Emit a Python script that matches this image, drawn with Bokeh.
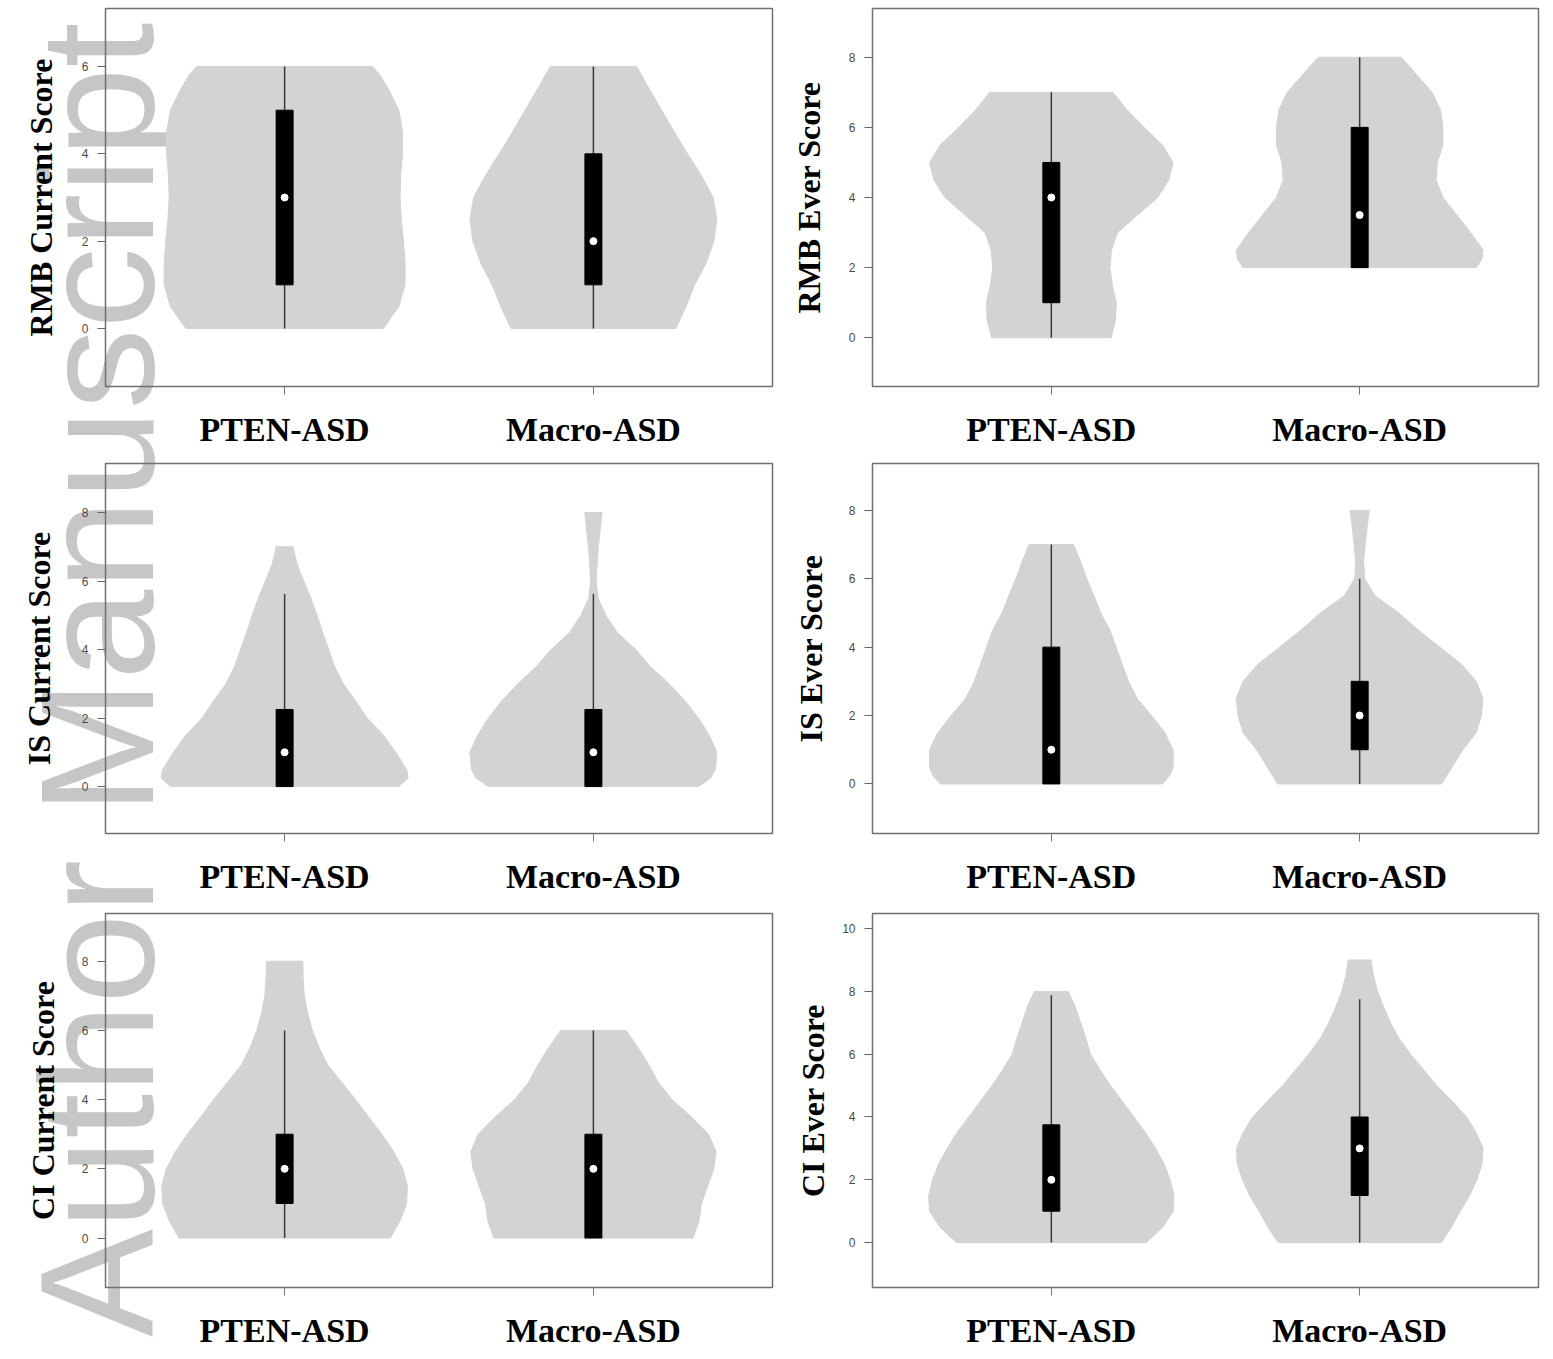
from bokeh.plotting import figure
from bokeh.models import FixedTicker, Range1d, Div
from bokeh.layouts import gridplot, column
from bokeh.embed import file_html
from bokeh.resources import INLINE

# ---------------- data ----------------
groups = ["PTEN-ASD", "Macro-ASD"]
group_x = [1, 2]

ylabels = ["RMB Current Score", "RMB Ever Score",
           "IS Current Score", "IS Ever Score",
           "CI Current Score", "CI Ever Score"]

ticks_rmb_cur = [0, 2, 4, 6]
ticks_8 = [0, 2, 4, 6, 8]
ticks_10 = [0, 2, 4, 6, 8, 10]

# violin outlines: score levels (y) and half-widths (w); box = [low whisker, q1, median, q3, high whisker]
rmb_cur_pten_y = [0, 0.25, 0.5, 1, 1.5, 2, 2.5, 3, 3.5, 4, 4.5, 5, 5.5, 5.8, 6]
rmb_cur_pten_w = [0.32, 0.345, 0.37, 0.39, 0.39, 0.385, 0.378, 0.374, 0.376, 0.382, 0.382, 0.37, 0.335, 0.31, 0.285]
rmb_cur_pten_box = [0, 1, 3, 5, 6]
rmb_cur_macro_y = [0, 0.5, 1, 1.5, 2, 2.5, 3, 3.5, 4, 4.5, 5, 5.5, 6]
rmb_cur_macro_w = [0.267, 0.30, 0.328, 0.365, 0.39, 0.40, 0.388, 0.35, 0.305, 0.262, 0.221, 0.18, 0.14]
rmb_cur_macro_box = [0, 1, 2, 4, 6]

rmb_ever_pten_y = [0, 0.5, 1, 1.5, 2, 2.5, 3, 3.5, 4, 4.5, 5, 5.5, 6, 6.5, 7]
rmb_ever_pten_w = [0.194, 0.208, 0.211, 0.198, 0.19, 0.195, 0.215, 0.28, 0.345, 0.381, 0.395, 0.36, 0.30, 0.245, 0.20]
rmb_ever_pten_box = [0, 1, 4, 5, 7]
rmb_ever_macro_y = [2, 2.25, 2.5, 3, 3.5, 4, 4.5, 5, 5.5, 6, 6.5, 7, 7.5, 8]
rmb_ever_macro_w = [0.378, 0.397, 0.40, 0.36, 0.315, 0.27, 0.248, 0.252, 0.27, 0.27, 0.262, 0.235, 0.185, 0.135]
rmb_ever_macro_box = [2, 2, 3.5, 6, 8]

is_cur_pten_y = [0, 0.25, 0.5, 1, 1.5, 2, 2.5, 3, 3.5, 4, 4.5, 5, 5.5, 6, 6.5, 7]
is_cur_pten_w = [0.37, 0.40, 0.395, 0.36, 0.32, 0.267, 0.23, 0.19, 0.162, 0.143, 0.123, 0.105, 0.085, 0.062, 0.04, 0.027]
is_cur_pten_box = [0, 0, 1, 2.25, 5.625]
is_cur_macro_y = [0, 0.25, 0.5, 1, 1.5, 2, 2.5, 3, 3.5, 4, 4.5, 5, 5.5, 6, 6.5, 7, 7.5, 8]
is_cur_macro_w = [0.34, 0.38, 0.395, 0.40, 0.375, 0.34, 0.297, 0.245, 0.185, 0.137, 0.077, 0.04, 0.015, 0.009, 0.012, 0.016, 0.022, 0.028]
is_cur_macro_box = [0, 0, 1, 2.25, 5.625]

is_ever_pten_y = [0, 0.25, 0.5, 1, 1.5, 2, 2.5, 3, 3.5, 4, 4.5, 5, 5.5, 6, 6.5, 7]
is_ever_pten_w = [0.36, 0.385, 0.395, 0.395, 0.368, 0.325, 0.278, 0.25, 0.23, 0.21, 0.19, 0.16, 0.138, 0.115, 0.095, 0.072]
is_ever_pten_box = [0, 0, 1, 4, 7]
is_ever_macro_y = [0, 0.5, 1, 1.5, 2, 2.5, 3, 3.5, 4, 4.5, 5, 5.5, 6, 6.5, 7, 7.5, 8]
is_ever_macro_w = [0.266, 0.30, 0.335, 0.378, 0.395, 0.40, 0.378, 0.33, 0.26, 0.19, 0.127, 0.05, 0.016, 0.013, 0.018, 0.024, 0.031]
is_ever_macro_box = [0, 1, 2, 3, 6]

ci_cur_pten_y = [0, 0.5, 1, 1.5, 2, 2.5, 3, 3.5, 4, 4.5, 5, 5.5, 6, 6.5, 7, 7.5, 8]
ci_cur_pten_w = [0.342, 0.374, 0.395, 0.398, 0.383, 0.353, 0.315, 0.272, 0.23, 0.185, 0.14, 0.112, 0.09, 0.075, 0.064, 0.06, 0.059]
ci_cur_pten_box = [0, 1, 2, 3, 6]
ci_cur_macro_y = [0, 0.5, 1, 1.5, 2, 2.5, 3, 3.5, 4, 4.5, 5, 5.5, 6]
ci_cur_macro_w = [0.323, 0.342, 0.35, 0.37, 0.39, 0.397, 0.373, 0.318, 0.255, 0.21, 0.18, 0.145, 0.106]
ci_cur_macro_box = [0, 0, 2, 3, 6]

ci_ever_pten_y = [0, 0.5, 1, 1.5, 2, 2.5, 3, 3.5, 4, 4.5, 5, 5.5, 6, 6.5, 7, 7.5, 8]
ci_ever_pten_w = [0.308, 0.362, 0.395, 0.398, 0.385, 0.366, 0.338, 0.306, 0.268, 0.23, 0.192, 0.158, 0.127, 0.112, 0.095, 0.078, 0.055]
ci_ever_pten_box = [0, 1, 2, 3.75, 7.875]
ci_ever_macro_y = [0, 0.5, 1, 1.5, 2, 2.5, 3, 3.5, 4, 4.5, 5, 5.5, 6, 6.5, 7, 7.5, 8, 8.5, 9]
ci_ever_macro_w = [0.265, 0.298, 0.326, 0.357, 0.38, 0.397, 0.40, 0.378, 0.347, 0.30, 0.25, 0.208, 0.165, 0.128, 0.10, 0.078, 0.058, 0.045, 0.037]
ci_ever_macro_box = [0, 1.5, 3, 4, 7.75]

watermark = "Author Manuscript"

panels = [
    (ylabels[0], ticks_rmb_cur, [(rmb_cur_pten_y, rmb_cur_pten_w, rmb_cur_pten_box),
                                  (rmb_cur_macro_y, rmb_cur_macro_w, rmb_cur_macro_box)]),
    (ylabels[1], ticks_8, [(rmb_ever_pten_y, rmb_ever_pten_w, rmb_ever_pten_box),
                           (rmb_ever_macro_y, rmb_ever_macro_w, rmb_ever_macro_box)]),
    (ylabels[2], ticks_8, [(is_cur_pten_y, is_cur_pten_w, is_cur_pten_box),
                           (is_cur_macro_y, is_cur_macro_w, is_cur_macro_box)]),
    (ylabels[3], ticks_8, [(is_ever_pten_y, is_ever_pten_w, is_ever_pten_box),
                           (is_ever_macro_y, is_ever_macro_w, is_ever_macro_box)]),
    (ylabels[4], ticks_8, [(ci_cur_pten_y, ci_cur_pten_w, ci_cur_pten_box),
                           (ci_cur_macro_y, ci_cur_macro_w, ci_cur_macro_box)]),
    (ylabels[5], ticks_10, [(ci_ever_pten_y, ci_ever_pten_w, ci_ever_pten_box),
                            (ci_ever_macro_y, ci_ever_macro_w, ci_ever_macro_box)]),
]

# ---------------- layout (pixels) ----------------
# width, height, border left/right/top/bottom, y-range, axis-label standoff
layout = [
    (782, 455, 103, 10, 8, 69, (-1.33, 7.33), 20),
    (768, 455, 90, 12, 8, 67, (-1.39, 9.39), 19),
    (782, 443, 105, 6, 8, 65, (-1.37, 9.43), 22),
    (768, 443, 86, 4, 6, 65, (-1.45, 9.37), 17),
    (782, 458, 101, 6, 12, 69, (-1.43, 9.38), 18),
    (768, 458, 86, 6, 15, 68, (-1.43, 10.48), 8),
]

VIOLIN = "#d3d3d3"
FRAME = "#707070"


def make_panel(spec, lay):
    ylabel, yticks, violins = spec
    W, H, bl, br, bt, bb, yr, als = lay
    p = figure(width=W, height=H, x_range=Range1d(0.42, 2.58), y_range=Range1d(*yr),
               output_backend="svg", toolbar_location=None, tools="",
               min_border_left=bl, min_border_right=br, min_border_top=bt, min_border_bottom=bb)
    p.xgrid.visible = False
    p.ygrid.visible = False
    # transparent so that the page watermark behind the panels shows through
    p.background_fill_color = None
    p.border_fill_color = None
    p.outline_line_color = FRAME
    p.outline_line_width = 1.5

    # x axis
    xa = p.xaxis[0]
    xa.ticker = FixedTicker(ticks=group_x)
    xa.major_label_overrides = {gx: g for gx, g in zip(group_x, groups)}
    xa.axis_line_color = None
    xa.major_tick_in = 0
    xa.major_tick_out = 8
    xa.major_tick_line_color = "#777777"
    xa.minor_tick_line_color = None
    xa.major_label_standoff = 16
    xa.major_label_text_font = "Liberation Serif"
    xa.major_label_text_font_style = "bold"
    xa.major_label_text_font_size = "34px"
    xa.major_label_text_color = "black"

    # y axis
    ya = p.yaxis[0]
    ya.ticker = FixedTicker(ticks=yticks)
    ya.axis_line_color = None
    ya.major_tick_in = 0
    ya.major_tick_out = 8
    ya.major_tick_line_color = "#666666"
    ya.minor_tick_line_color = None
    ya.major_label_standoff = 9
    ya.major_label_text_font = "Liberation Sans"
    ya.major_label_text_font_size = "12px"
    ya.major_label_text_color = "#4a4a4a"
    ya.axis_label = ylabel
    ya.axis_label_text_font = "Liberation Serif"
    ya.axis_label_text_font_style = "bold"
    ya.axis_label_text_font_size = "32px"
    ya.axis_label_text_color = "black"
    ya.axis_label_standoff = als

    for cx, (ys, ws, box) in zip(group_x, violins):
        xs = [cx + w for w in ws] + [cx - w for w in reversed(ws)]
        yy = list(ys) + list(reversed(ys))
        p.patch(xs, yy, fill_color=VIOLIN, line_color=VIOLIN, line_width=1)
        lo, q1, med, q3, hi = box
        p.segment(x0=[cx], y0=[lo], x1=[cx], y1=[hi], line_color="#3a3a3a", line_width=1.5)
        p.vbar(x=[cx], width=0.055, bottom=[q1], top=[q3], fill_color="black", line_color="black")
        p.scatter(x=[cx], y=[med], size=7, fill_color="white", line_color="white")
    return p


figs = [make_panel(s, l) for s, l in zip(panels, layout)]
grid = gridplot([[figs[0], figs[1]], [figs[2], figs[3]], [figs[4], figs[5]]], toolbar_location=None)

# page watermark, rotated to read upwards along the left edge, painted behind the panels
wm_html = (
    '<div style="position:absolute; left:31px; top:0px; transform:translateY(1332px) rotate(-90deg); '
    'transform-origin:0 0; font-family:\'Liberation Sans\'; font-size:162px; line-height:0.75; '
    'color:#c6c6c6; white-space:nowrap;">' + watermark + '</div>'
)
wm_div = Div(text=wm_html, width=1400, height=1350,
             styles={"position": "absolute", "left": "0px", "top": "0px", "z-index": "-1",
                     "overflow": "visible"})

page = column(grid, wm_div)
open("out.html", "w").write(file_html(page, INLINE))
